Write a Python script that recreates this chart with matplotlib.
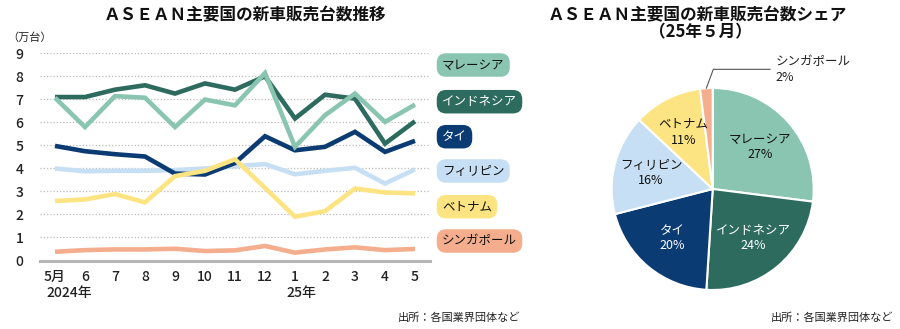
import numpy as np
import matplotlib
matplotlib.use("Agg")
import matplotlib.pyplot as plt

plt.rcParams["font.family"] = ["Noto Sans CJK JP", "DejaVu Sans"]

# ── monthly sales, 2024-05 .. 2025-05 (10k units) ──────────────────────────
months = ["5月", "6", "7", "8", "9", "10", "11", "12", "1", "2", "3", "4", "5"]
countries = ["マレーシア", "インドネシア", "タイ", "フィリピン", "ベトナム", "シンガポール"]

malaysia = [7.06, 5.79, 7.13, 7.06, 5.79, 6.98, 6.73, 8.13, 4.93, 6.30, 7.24, 6.01, 6.76]
indonesia = [7.09, 7.09, 7.41, 7.60, 7.24, 7.68, 7.41, 7.99, 6.16, 7.19, 7.02, 5.07, 6.04]
thailand = [4.97, 4.74, 4.61, 4.51, 3.77, 3.73, 4.23, 5.39, 4.78, 4.93, 5.58, 4.71, 5.19]
philippines = [3.99, 3.87, 3.89, 3.89, 3.92, 3.99, 4.09, 4.18, 3.74, 3.89, 4.02, 3.34, 3.95]
vietnam = [2.58, 2.65, 2.88, 2.52, 3.66, 3.89, 4.39, 3.15, 1.90, 2.14, 3.12, 2.95, 2.91]
singapore = [0.38, 0.45, 0.48, 0.48, 0.51, 0.41, 0.44, 0.63, 0.34, 0.48, 0.57, 0.45, 0.50]

# share in May 2025 (%)
share = [27, 24, 20, 16, 11, 2]

colors = ["#8ac5b1", "#2e6b5f", "#0b3b73", "#c6dff4", "#fde483", "#f4ae8d"]
text_colors = ["#111111", "white", "white", "#111111", "#111111", "#111111"]

series = [malaysia, indonesia, thailand, philippines, vietnam, singapore]
# drawing order, bottom to top
z_order = {5: 1, 3: 2, 2: 3, 4: 4, 1: 5, 0: 6}

W, H = 900, 329
fig = plt.figure(figsize=(9, 3.29), dpi=100)

# ── line chart ────────────────────────────────────────────────────────────
ax = fig.add_axes([40 / W, 1 - 260.5 / H, 390 / W, 207.5 / H])
x = np.arange(len(months))
for i, ys in enumerate(series):
    ax.plot(x, ys, color=colors[i], lw=3.3, solid_joinstyle="miter",
            solid_capstyle="butt", zorder=z_order[i] + 2, clip_on=False)

ax.set_xlim(-0.5, 12.5)
ax.set_ylim(0, 9)
ax.set_yticks(range(10))
for v in range(1, 10):
    ax.axhline(v, color="#bdbdbd", lw=0.9, ls=(0, (1, 1.6)), zorder=1)
ax.axhline(0, color="#b5b5b5", lw=2.2, zorder=2, clip_on=False)
for s in ax.spines.values():
    s.set_visible(False)
ax.set_xticks(x)
ax.set_xticklabels(months)
ax.tick_params(length=0, labelsize=10, colors="#222222")
ax.tick_params(axis="y", pad=12)
ax.tick_params(axis="x", pad=7)
for lbl in ax.get_xticklabels() + ax.get_yticklabels():
    lbl.set_fontweight("medium")

yr = ax.get_xaxis_transform()
ax.text(-0.3, -0.157, "2024年", transform=yr, ha="left", va="center", fontsize=10,
        fontweight="medium", color="#222222")
ax.text(7.7, -0.157, "25年", transform=yr, ha="left", va="center", fontsize=10,
        fontweight="medium", color="#222222")

fig.text(30 / W, 1 - 38 / H, "（万台）", ha="center", va="center", fontsize=8, color="#222222")
fig.text(245 / W, 1 - 15 / H, "ＡＳＥＡＮ主要国の新車販売台数推移", ha="center", va="center",
         fontsize=12, fontweight="bold", color="#111111")

# legend chips
chip_y = [65, 101.7, 136.7, 171, 206.7, 241]
for name, c, tc, py in zip(countries, colors, text_colors, chip_y):
    fig.text(442 / W, 1 - py / H, name, ha="left", va="center", fontsize=9, color=tc,
             bbox=dict(boxstyle="round,pad=0.42,rounding_size=0.75", fc=c, ec="none"))

fig.text(520 / W, 1 - 318 / H, "出所：各国業界団体など", ha="right", va="center", fontsize=8, color="#222222")

# ── pie chart ─────────────────────────────────────────────────────────────
cx, cy, r = 712.7, 189, 101
pax = fig.add_axes([(cx - 1.2 * r) / W, 1 - (cy + 1.2 * r) / H, 2.4 * r / W, 2.4 * r / H])
wedges, _ = pax.pie(share, colors=colors, startangle=90, counterclock=False, radius=1,
                    wedgeprops=dict(edgecolor="white", linewidth=1.5))
pax.set_xlim(-1.2, 1.2)
pax.set_ylim(-1.2, 1.2)
pax.axis("off")

for w, name, pct, tc in zip(wedges[:-1], countries[:-1], share[:-1], text_colors[:-1]):
    mid = np.deg2rad((w.theta1 + w.theta2) / 2)
    pax.text(0.63 * np.cos(mid), 0.63 * np.sin(mid), f"{name}\n{pct}%", ha="center", va="center",
             fontsize=9, color=tc, linespacing=1.25)

# small slice gets a leader line
w = wedges[-1]
mid = np.deg2rad((w.theta1 + w.theta2) / 2)
ex, ey = np.cos(mid), np.sin(mid)
pax.plot([ex, 0.006, 0.567], [ey, 1.185, 1.185], color="#555555", lw=0.8, clip_on=False)
pax.text(0.62, 1.185, f"{countries[-1]}\n{share[-1]}%", ha="left", va="center", fontsize=9,
         color="#222222", linespacing=1.25, clip_on=False)

fig.text(697 / W, 1 - 15 / H, "ＡＳＥＡＮ主要国の新車販売台数シェア", ha="center", va="center",
         fontsize=12, fontweight="bold", color="#111111")
fig.text(700 / W, 1 - 32 / H, "（25年５月）", ha="center", va="center",
         fontsize=12, fontweight="bold", color="#111111")
fig.text(893 / W, 1 - 318 / H, "出所：各国業界団体など", ha="right", va="center", fontsize=8, color="#222222")

fig.savefig("out.png", dpi=100)
